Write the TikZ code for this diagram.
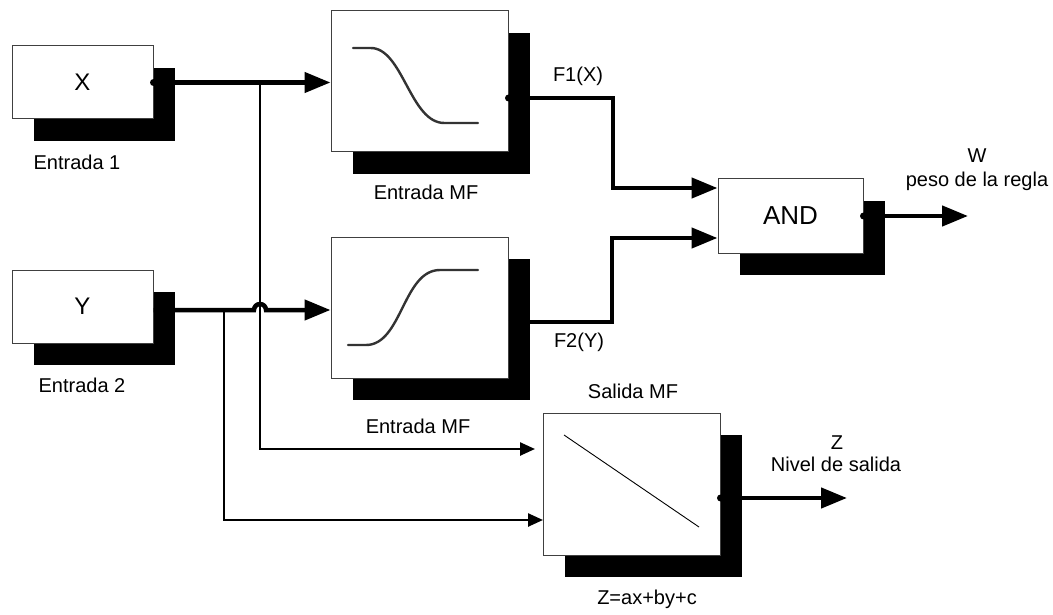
\documentclass[tikz,border=0pt]{standalone}
\usepackage{fontspec}
\setmainfont{Liberation Sans}
\usetikzlibrary{arrows.meta,shadows}
\begin{document}
\begin{tikzpicture}[x=1pt,y=-1pt,
  box/.style={draw=black!75, line width=1pt, fill=white, inner sep=0pt,
    drop shadow={shadow xshift=22pt, shadow yshift=-22pt, fill=black, opacity=1}},
  lbl/.style={anchor=base, inner sep=0pt, font=\fontsize{20}{24}\selectfont},
  bus/.style={line width=4.5pt, -{Triangle[length=26pt,width=20pt]}},
  signal/.style={line width=2.5pt, -{Triangle[length=15pt,width=13pt]}},
  curve/.style={line width=2.4pt, black!80, line cap=round},
  dot/.style={fill=black}
]
\useasboundingbox (0,0) rectangle (1053,615);

% blocks
\node[box, minimum width=141pt, minimum height=73pt, font=\fontsize{24}{28}\selectfont] (X) at (82.5,82.5) {X};
\node[box, minimum width=141pt, minimum height=73pt, font=\fontsize{24}{28}\selectfont] (Y) at (82.5,306.5) {Y};
\node[box, minimum width=177pt, minimum height=141pt] (MF1) at (419.5,81.5) {};
\node[box, minimum width=177pt, minimum height=141pt] (MF2) at (419.5,307.5) {};
\node[box, minimum width=145pt, minimum height=74pt, font=\fontsize{26}{30}\selectfont] (AND) at (790.5,216) {AND};
\node[box, minimum width=177pt, minimum height=142pt] (OUT) at (631.5,484) {};

% membership function curves
\draw[curve] (353,48) -- (370,48) .. controls (403,47) and (410,124) .. (445,123) -- (478,123);
\draw[curve] (348,345) -- (366,345) .. controls (402,345) and (403,270) .. (440,270) -- (478,270);
\draw[line width=0.9pt] (564,435) -- (699,527);

% connectors
\coordinate (bx) at (260,82.5);
\coordinate (by) at (224,310);
\coordinate (t1) at (535,449);
\coordinate (t2) at (543,520);
\coordinate (wend) at (968,216);
\coordinate (zend) at (847,498);

\draw[signal] (bx) |- (t1);
\draw[signal] (by) |- (t2);

\draw[bus] (X.east) -- (MF1.west |- X.east);
\draw[bus] (Y.east |- by) -- (254,310) arc[start angle=180,end angle=0,radius=6pt] -- (MF2.west |- by);
\draw[bus] (MF1.east |- 0,98) -- (613,98) -- (613,188) -- (AND.west |- 0,188);
\draw[bus] (MF2.east |- 0,322) -- (612,322) -- (612,238) -- (AND.west |- 0,238);
\draw[bus] (AND.east) -- (wend);
\draw[bus] (OUT.east |- zend) -- (zend);

% output dots
\fill[dot] (X.east) circle[radius=3.5pt];
\fill[dot] (MF1.east |- 0,98) circle[radius=3.5pt];
\fill[dot] (AND.east) circle[radius=3.5pt];
\fill[dot] (OUT.east |- zend) circle[radius=3.5pt];

% labels
\node[lbl] (l1) at (77,170) {Entrada 1};
\node[lbl] (l2) at (82,392) {Entrada 2};
\node[lbl] (l3) at (426,200) {Entrada MF};
\node[lbl] (l4) at (418,433) {Entrada MF};
\node[lbl] (l5) at (578,82) {F1(X)};
\node[lbl] (l6) at (579,347) {F2(Y)};
\node[lbl] (l7) at (977,163) {W};
\node[lbl] (l8) at (977,186) {peso de la regla};
\node[lbl] (l9) at (633,398) {Salida MF};
\node[lbl] (l10) at (837,449) {Z};
\node[lbl] (l11) at (836,471) {Nivel de salida};
\node[lbl] (l12) at (647,604) {Z=ax+by+c};
\end{tikzpicture}
\end{document}
